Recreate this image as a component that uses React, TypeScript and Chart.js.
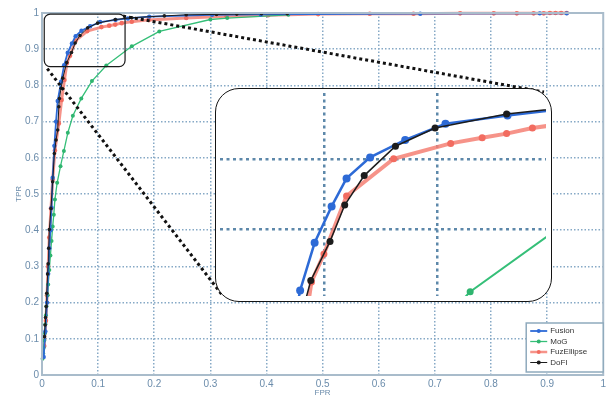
import React, { useEffect, useRef } from 'react';
import { Chart, registerables } from 'chart.js';

Chart.register(...registerables);

// ---------- data ----------
const seriesNames = ['Fusion', 'MoG', 'FuzEllipse', 'DoFI'];

const fusionFPR = [0.003, 0.006, 0.009, 0.011, 0.013, 0.015, 0.017, 0.019, 0.022, 0.025, 0.028, 0.034, 0.0394, 0.0458, 0.0533, 0.0599, 0.0703, 0.0858, 0.1036, 0.131, 0.153, 0.191, 0.303, 0.39, 0.674, 0.887, 0.935];
const fusionTPR = [0.05, 0.12, 0.2, 0.28, 0.35, 0.4, 0.462, 0.545, 0.633, 0.7, 0.757, 0.81, 0.856, 0.89, 0.916, 0.936, 0.951, 0.9635, 0.975, 0.981, 0.985, 0.99, 0.995, 0.996, 0.998, 0.999, 0.999];

const mogFPR = [0.001, 0.002, 0.003, 0.004, 0.005, 0.006, 0.007, 0.008, 0.01, 0.011, 0.013, 0.015, 0.017, 0.019, 0.021, 0.023, 0.027, 0.033, 0.039, 0.046, 0.055, 0.07, 0.089, 0.1145, 0.16, 0.209, 0.3, 0.33, 0.439];
const mogTPR = [0.045, 0.06, 0.075, 0.095, 0.115, 0.14, 0.165, 0.19, 0.22, 0.25, 0.29, 0.33, 0.37, 0.41, 0.443, 0.485, 0.531, 0.577, 0.619, 0.669, 0.716, 0.764, 0.812, 0.855, 0.908, 0.949, 0.982, 0.986, 0.995];

const fuzFPR = [0.004, 0.007, 0.009, 0.011, 0.013, 0.016, 0.019, 0.023, 0.03, 0.035, 0.04, 0.0444, 0.0499, 0.0599, 0.0807, 0.1059, 0.1198, 0.1306, 0.142, 0.16, 0.19, 0.257, 0.329, 0.403, 0.492, 0.584, 0.662, 0.745, 0.805, 0.846, 0.876, 0.894, 0.905, 0.915, 0.925, 0.935];
const fuzTPR = [0.08, 0.15, 0.22, 0.3, 0.38, 0.46, 0.54, 0.62, 0.695, 0.76, 0.815, 0.862, 0.882, 0.9235, 0.95, 0.961, 0.965, 0.968, 0.972, 0.976, 0.981, 0.986, 0.991, 0.994, 0.997, 0.998, 0.998, 0.999, 0.999, 0.999, 0.999, 0.999, 1, 1, 1, 1];

const dofiFPR = [0.0044, 0.0055, 0.0062, 0.0074, 0.0085, 0.01, 0.011, 0.012, 0.013, 0.016, 0.019, 0.022, 0.025, 0.028, 0.03, 0.031, 0.034, 0.037, 0.0441, 0.0526, 0.0591, 0.0677, 0.0815, 0.099, 0.1306, 0.16, 0.218, 0.257, 0.311, 0.347, 0.391, 0.437];
const dofiTPR = [0.106, 0.138, 0.159, 0.189, 0.226, 0.279, 0.307, 0.35, 0.402, 0.46, 0.534, 0.612, 0.649, 0.677, 0.741, 0.764, 0.792, 0.82, 0.863, 0.891, 0.917, 0.938, 0.959, 0.972, 0.982, 0.987, 0.992, 0.995, 0.996, 0.997, 0.998, 0.998];

const xTicks = [0, 0.1, 0.2, 0.3, 0.4, 0.5, 0.6, 0.7, 0.8, 0.9, 1];
const xTickLabels = ['0', '0.1', '0.2', '0.3', '0.4', '0.5', '0.6', '0.7', '0.8', '0.9', '1'];
const yTicks = [0, 0.1, 0.2, 0.3, 0.4, 0.5, 0.6, 0.7, 0.8, 0.9, 1];
const yTickLabels = ['0', '0.1', '0.2', '0.3', '0.4', '0.5', '0.6', '0.7', '0.8', '0.9', '1'];

// zoomed window shown in the inset
const zoomX = [0.004, 0.148];
const zoomY = [0.852, 0.997];
const insetGridX = [0.05, 0.1];
const insetGridY = [0.9, 0.95];

// ---------- styles ----------
const W = 609;
const H = 400;
const INSET = { left: 215, top: 88, width: 337, height: 214, border: 1.5 };
const FONT = "'Liberation Sans', Arial, sans-serif";
const TICK_COLOR = '#6b8cab';
const GRID_COLOR = '#86a9c6';
const BOX_COLOR = '#a9bccb';
const INSET_GRID = '#5d88aa';

const styles = [
  { color: '#2d6ad6', point: '#2d6ad6', width: 1.8, r: 2.2, iw: 2.5, ir: 4, order: 1 },
  { color: '#35bf78', point: '#2fb56f', width: 1.3, r: 2, iw: 2, ir: 3.5, order: 2 },
  { color: 'rgba(244,128,116,0.85)', point: '#f26c60', width: 3, r: 2.3, iw: 4, ir: 3.5, order: 3 },
  { color: '#1c1c1c', point: '#1c1c1c', width: 1, r: 1.8, iw: 1.5, ir: 3.5, order: 0 },
];

const seriesX = [fusionFPR, mogFPR, fuzFPR, dofiFPR];
const seriesY = [fusionTPR, mogTPR, fuzTPR, dofiTPR];

function makeDatasets(inset: boolean) {
  return seriesNames.map((name, i) => ({
    label: name,
    data: seriesX[i].map((x, j) => ({ x, y: seriesY[i][j] })),
    borderColor: styles[i].color,
    backgroundColor: styles[i].point,
    pointBackgroundColor: styles[i].point,
    pointBorderColor: styles[i].point,
    pointBorderWidth: 0,
    borderWidth: inset ? styles[i].iw : styles[i].width,
    pointRadius: inset ? styles[i].ir : styles[i].r,
    tension: 0,
    order: styles[i].order,
    clip: inset ? 0 : 6,
  }));
}

const mainPlugin = {
  id: 'mainDeco',
  afterDatasetsDraw(chart: any) {
    const { ctx, chartArea: a, scales } = chart;
    const xs = scales.x;
    const ys = scales.y;
    ctx.save();
    // plot box
    ctx.strokeStyle = BOX_COLOR;
    ctx.lineWidth = 2;
    ctx.strokeRect(a.left, a.top, a.right - a.left, a.bottom - a.top);

    // zoom rectangle
    const rx0 = xs.getPixelForValue(zoomX[0]);
    const rx1 = xs.getPixelForValue(zoomX[1]);
    const ry0 = ys.getPixelForValue(zoomY[1]);
    const ry1 = ys.getPixelForValue(zoomY[0]);
    ctx.strokeStyle = '#1a1a1a';
    ctx.lineWidth = 1.2;
    ctx.beginPath();
    (ctx as any).roundRect(rx0, ry0, rx1 - rx0, ry1 - ry0, 6);
    ctx.stroke();

    // dotted connectors
    ctx.setLineDash([3, 3]);
    ctx.lineWidth = 3;
    ctx.strokeStyle = '#111';
    ctx.beginPath();
    ctx.moveTo(rx0 + 3, ry1 + 2);
    ctx.lineTo(INSET.left + 8, INSET.top + INSET.height - 6);
    ctx.moveTo(rx1 - 2, ry0 + 2);
    ctx.lineTo(INSET.left + INSET.width - 8, INSET.top + 4);
    ctx.stroke();
    ctx.setLineDash([]);

    // legend
    const lw = 77;
    const lh = 49;
    const lx = a.right - lw;
    const ly = a.bottom - 3 - lh;
    ctx.fillStyle = '#ffffff';
    ctx.fillRect(lx, ly, lw, lh);
    ctx.strokeStyle = '#8faabd';
    ctx.lineWidth = 1.5;
    ctx.strokeRect(lx, ly, lw, lh);
    ctx.font = `8px ${FONT}`;
    ctx.textBaseline = 'middle';
    seriesNames.forEach((name, i) => {
      const yy = ly + 8 + i * 10.5;
      ctx.strokeStyle = styles[i].color;
      ctx.lineWidth = Math.min(styles[i].width, 2.5);
      ctx.beginPath();
      ctx.moveTo(lx + 4, yy);
      ctx.lineTo(lx + 21, yy);
      ctx.stroke();
      ctx.fillStyle = styles[i].point;
      ctx.beginPath();
      ctx.arc(lx + 12.5, yy, 2, 0, Math.PI * 2);
      ctx.fill();
      ctx.fillStyle = '#333';
      ctx.textAlign = 'left';
      ctx.fillText(name, lx + 24, yy);
    });
    ctx.restore();
  },
};

export default function App() {
  const mainRef = useRef<HTMLCanvasElement>(null);
  const insetRef = useRef<HTMLCanvasElement>(null);

  useEffect(() => {
    document.body.style.margin = '0';
    const edgeGrid = (ctx: any) =>
      ctx.tick && (ctx.tick.value === 0 || ctx.tick.value === 1) ? 'rgba(0,0,0,0)' : GRID_COLOR;

    const main = new Chart(mainRef.current!, {
      type: 'line',
      data: { datasets: makeDatasets(false) as any },
      plugins: [mainPlugin],
      options: {
        responsive: false,
        animation: false,
        layout: { padding: { top: 13, right: 2.5, left: 0, bottom: 0 } },
        plugins: { legend: { display: false }, tooltip: { enabled: false } },
        scales: {
          x: {
            type: 'linear',
            min: 0,
            max: 1,
            afterBuildTicks: (s: any) => {
              s.ticks = xTicks.map((v) => ({ value: v }));
            },
            afterFit: (s: any) => {
              s.height = 25;
            },
            ticks: {
              callback: (_v: any, i: number) => xTickLabels[i],
              padding: 3,
              color: TICK_COLOR,
              font: { size: 10, family: FONT },
              maxRotation: 0,
              autoSkip: false,
            },
            grid: { color: edgeGrid, lineWidth: 1.5, drawTicks: false },
            border: { display: false, dash: [1.5, 2] },
            title: {
              display: true,
              text: 'FPR',
              color: TICK_COLOR,
              font: { size: 8, family: FONT },
              padding: { top: 0, bottom: 2 },
            },
          },
          y: {
            type: 'linear',
            min: 0,
            max: 1,
            afterBuildTicks: (s: any) => {
              s.ticks = yTicks.map((v) => ({ value: v }));
            },
            afterFit: (s: any) => {
              s.width = 42;
            },
            ticks: {
              callback: (_v: any, i: number) => yTickLabels[i],
              padding: 3,
              color: TICK_COLOR,
              font: { size: 10, family: FONT },
              autoSkip: false,
            },
            grid: { color: edgeGrid, lineWidth: 1.5, drawTicks: false },
            border: { display: false, dash: [1.5, 2] },
            title: {
              display: true,
              text: 'TPR',
              color: TICK_COLOR,
              font: { size: 8, family: FONT },
              padding: { top: 14, bottom: 0 },
            },
          },
        },
      } as any,
    });

    const inset = new Chart(insetRef.current!, {
      type: 'line',
      data: { datasets: makeDatasets(true) as any },
      options: {
        responsive: false,
        animation: false,
        layout: { padding: 0 },
        plugins: { legend: { display: false }, tooltip: { enabled: false } },
        scales: {
          x: {
            type: 'linear',
            min: zoomX[0],
            max: zoomX[1],
            afterBuildTicks: (s: any) => {
              s.ticks = insetGridX.map((v) => ({ value: v }));
            },
            afterFit: (s: any) => {
              s.height = 0;
            },
            ticks: { display: false },
            grid: { color: INSET_GRID, lineWidth: 2.5, drawTicks: false },
            border: { display: false, dash: [3, 3.5] },
          },
          y: {
            type: 'linear',
            min: zoomY[0],
            max: zoomY[1],
            afterBuildTicks: (s: any) => {
              s.ticks = insetGridY.map((v) => ({ value: v }));
            },
            afterFit: (s: any) => {
              s.width = 0;
            },
            ticks: { display: false },
            grid: { color: INSET_GRID, lineWidth: 2.5, drawTicks: false },
            border: { display: false, dash: [3, 3.5] },
          },
        },
      } as any,
    });

    return () => {
      main.destroy();
      inset.destroy();
    };
  }, []);

  const innerW = INSET.width - 2 * INSET.border;
  const innerH = INSET.height - 2 * INSET.border;

  return (
    <div style={{ position: 'relative', width: W, height: H, background: '#fff' }}>
      <canvas ref={mainRef} width={W} height={H} style={{ position: 'absolute', left: 0, top: 0 }} />
      <div
        style={{
          position: 'absolute',
          left: INSET.left,
          top: INSET.top,
          width: INSET.width,
          height: INSET.height,
          boxSizing: 'border-box',
          border: `${INSET.border}px solid #141414`,
          borderRadius: 24,
          overflow: 'hidden',
          background: '#fff',
        }}
      >
        <canvas ref={insetRef} width={innerW} height={innerH} style={{ display: 'block' }} />
      </div>
    </div>
  );
}
